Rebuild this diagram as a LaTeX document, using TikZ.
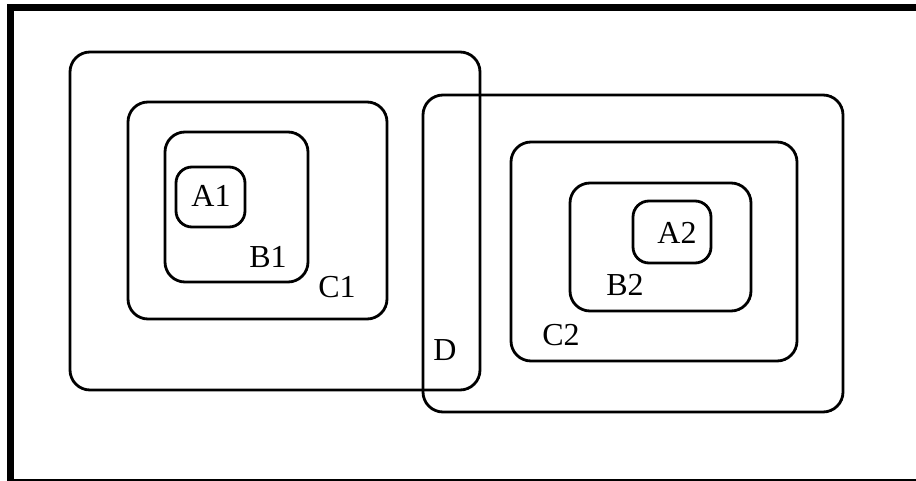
\documentclass[tikz,border=0pt]{standalone}
\usepackage{fontspec}
\setmainfont{Liberation Serif}
\usepackage{tikz}
\usetikzlibrary{positioning}

\tikzset{
	region/.style={draw, line width=2.8pt, rounded corners=20pt, inner sep=0pt, outer sep=0pt},
	small region/.style={region, rounded corners=16pt},
	tag/.style={inner sep=0pt, font=\fontsize{32}{36}\selectfont}
}

\begin{document}
\begin{tikzpicture}[x=1pt, y=-1pt]
\useasboundingbox (0,0) rectangle (916,481);
\clip (0,0) rectangle (916,481);
\draw[line width=7pt] (930,8) -- (10.5,8) -- (10.5,482) -- (930,482);
% left group
\node[region, minimum width=410pt, minimum height=338pt] (L) at (275,221) {};
\node[region, minimum width=259pt, minimum height=217pt] (C1) at (257.5,210.5) {};
\node[region, minimum width=143pt, minimum height=150pt] (B1) at (236.5,207) {};
\node[small region, minimum width=69pt, minimum height=60pt] (A1) at (210.5,197) {};
% right group
\node[region, minimum width=420pt, minimum height=317pt] (D) at (633,253.5) {};
\node[region, minimum width=286pt, minimum height=219pt] (C2) at (654,251.5) {};
\node[region, minimum width=181pt, minimum height=128pt] (B2) at (660.5,247) {};
\node[small region, minimum width=78pt, minimum height=62pt] (A2) at (672,232) {};
% labels
\node[tag] (tA1) at (211,196) {A1};
\node[tag] (tB1) at (268,257) {B1};
\node[tag] (tC1) at (337,287) {C1};
\node[tag] (tD) at (445,350) {D};
\node[tag] (tA2) at (677,233) {A2};
\node[tag] (tB2) at (625,285) {B2};
\node[tag] (tC2) at (561,335) {C2};
\end{tikzpicture}
\end{document}
